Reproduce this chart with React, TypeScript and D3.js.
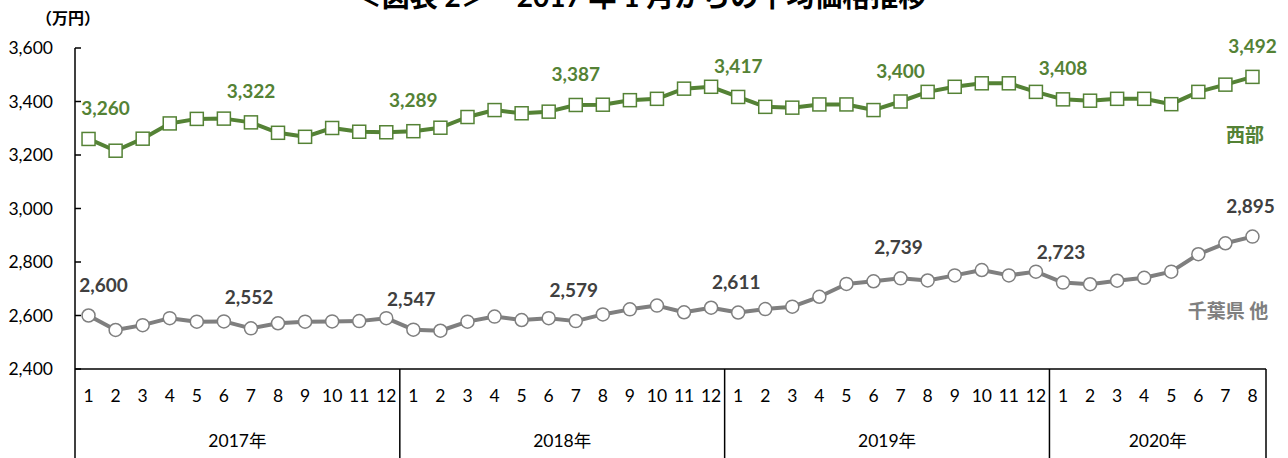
import { useEffect, useRef } from "react";
import * as d3 from "d3";

const years = ["2017年", "2018年", "2019年", "2020年"];
const monthsInYear = [12, 12, 12, 8];

// 西部 (万円)
const seibu = [
  3260, 3216, 3261, 3318, 3335, 3336, 3322, 3283, 3268, 3301, 3287, 3285,
  3289, 3302, 3342, 3368, 3356, 3362, 3387, 3388, 3405, 3410, 3448, 3455,
  3417, 3380, 3377, 3389, 3389, 3368, 3400, 3436, 3455, 3468, 3468, 3436,
  3408, 3403, 3410, 3410, 3390, 3436, 3463, 3492,
];

// 千葉県 他 (万円)
const chiba = [
  2600, 2546, 2564, 2590, 2577, 2578, 2552, 2571, 2577, 2578, 2579, 2590,
  2547, 2543, 2577, 2596, 2583, 2590, 2579, 2604, 2623, 2637, 2612, 2629,
  2611, 2624, 2633, 2670, 2718, 2728, 2739, 2731, 2750, 2770, 2750, 2764,
  2723, 2717, 2730, 2741, 2764, 2829, 2870, 2895,
];

// points that carry a value label
const labelIdx = [0, 6, 12, 18, 24, 30, 36, 43];
const yTicks = [2400, 2600, 2800, 3000, 3200, 3400, 3600];

const title = "＜図表 2＞　2017 年 1 月からの平均価格推移";
const FONT = "Lato, 'Noto Sans CJK JP', sans-serif";
const GREEN = "#548235";
const GRAY = "#7f7f7f";

export default function App() {
  const svgRef = useRef<SVGSVGElement>(null);
  const width = 1288;
  const height = 458;

  useEffect(() => {
    if (!svgRef.current) return;
    const svg = d3.select(svgRef.current);
    svg.selectAll("*").remove();

    // month labels for each point
    const months: string[] = [];
    monthsInYear.forEach((n) => {
      for (let m = 1; m <= n; m++) months.push(String(m));
    });
    const idx = months.map((_, i) => i);

    const left = 75;
    const right = 1266;
    const top = 48;
    const bottom = 369;

    const x = d3.scaleBand<number>().domain(idx).range([left, right]);
    const y = d3.scaleLinear().domain([2400, 3600]).range([bottom, top]);
    const cx = (i: number) => (x(i) as number) + x.bandwidth() / 2;

    // title (cut off at top like the source)
    svg
      .append("text")
      .attr("x", 640)
      .attr("y", 7)
      .attr("text-anchor", "middle")
      .attr("font-family", FONT)
      .attr("font-weight", "bold")
      .attr("font-size", 28)
      .attr("fill", "#000")
      .text(title);

    // unit
    svg
      .append("text")
      .attr("x", 36)
      .attr("y", 24)
      .attr("font-family", FONT)
      .attr("font-weight", "bold")
      .attr("font-size", 16)
      .attr("fill", "#000")
      .text("（万円）");

    // y axis line (runs down through the category table)
    svg
      .append("line")
      .attr("x1", left)
      .attr("x2", left)
      .attr("y1", top)
      .attr("y2", height)
      .attr("stroke", "#000")
      .attr("stroke-width", 1.5);

    // y ticks + labels
    yTicks.forEach((t) => {
      svg
        .append("line")
        .attr("x1", left)
        .attr("x2", left + 6)
        .attr("y1", y(t))
        .attr("y2", y(t))
        .attr("stroke", "#000")
        .attr("stroke-width", 1.5);
      svg
        .append("text")
        .attr("x", 53)
        .attr("y", y(t) + 6)
        .attr("text-anchor", "end")
        .attr("font-family", FONT)
        .attr("font-size", 17.5)
        .attr("fill", "#000")
        .text(d3.format(",")(t));
    });

    // x axis line + category table
    svg
      .append("line")
      .attr("x1", left)
      .attr("x2", right)
      .attr("y1", bottom)
      .attr("y2", bottom)
      .attr("stroke", "#000")
      .attr("stroke-width", 1.5);

    let start = 0;
    years.forEach((yr, k) => {
      const n = monthsInYear[k];
      const x0 = x(start) as number;
      const x1 = (x(start + n - 1) as number) + x.bandwidth();
      svg
        .append("line")
        .attr("x1", x1)
        .attr("x2", x1)
        .attr("y1", bottom)
        .attr("y2", height)
        .attr("stroke", "#000")
        .attr("stroke-width", 1.5);
      svg
        .append("text")
        .attr("x", (x0 + x1) / 2)
        .attr("y", 447)
        .attr("text-anchor", "middle")
        .attr("font-family", FONT)
        .attr("font-size", 17.5)
        .attr("fill", "#000")
        .text(yr);
      start += n;
    });

    svg
      .selectAll("text.month")
      .data(months)
      .join("text")
      .attr("class", "month")
      .attr("x", (_, i) => cx(i))
      .attr("y", 402)
      .attr("text-anchor", "middle")
      .attr("font-family", FONT)
      .attr("font-size", 17.5)
      .attr("fill", "#000")
      .text((d) => d);

    const line = d3
      .line<number>()
      .x((_, i) => cx(i))
      .y((d) => y(d));

    // 千葉県 他
    svg
      .append("path")
      .datum(chiba)
      .attr("d", line)
      .attr("fill", "none")
      .attr("stroke", GRAY)
      .attr("stroke-width", 4)
      .attr("stroke-linejoin", "round");
    svg
      .selectAll("circle.chiba")
      .data(chiba)
      .join("circle")
      .attr("class", "chiba")
      .attr("cx", (_, i) => cx(i))
      .attr("cy", (d) => y(d))
      .attr("r", 6.5)
      .attr("fill", "#fff")
      .attr("stroke", GRAY)
      .attr("stroke-width", 1.5);

    // 西部
    svg
      .append("path")
      .datum(seibu)
      .attr("d", line)
      .attr("fill", "none")
      .attr("stroke", GREEN)
      .attr("stroke-width", 4)
      .attr("stroke-linejoin", "round");
    svg
      .selectAll("rect.seibu")
      .data(seibu)
      .join("rect")
      .attr("class", "seibu")
      .attr("x", (_, i) => cx(i) - 6.5)
      .attr("y", (d) => y(d) - 6.5)
      .attr("width", 13)
      .attr("height", 13)
      .attr("fill", "#fff")
      .attr("stroke", GREEN)
      .attr("stroke-width", 1.5);

    // value labels (first one nudged right, clear of the axis)
    labelIdx.forEach((i) => {
      const dx = i === 0 ? 17 : 0;
      svg
        .append("text")
        .attr("x", cx(i) + dx)
        .attr("y", y(seibu[i]) - 24)
        .attr("text-anchor", "middle")
        .attr("font-family", FONT)
        .attr("font-weight", "bold")
        .attr("font-size", 19)
        .attr("fill", GREEN)
        .text(d3.format(",")(seibu[i]));
      svg
        .append("text")
        .attr("x", cx(i) + dx - 2)
        .attr("y", y(chiba[i]) - 24)
        .attr("text-anchor", "middle")
        .attr("font-family", FONT)
        .attr("font-weight", "bold")
        .attr("font-size", 19)
        .attr("fill", "#404040")
        .text(d3.format(",")(chiba[i]));
    });

    // series names
    svg
      .append("text")
      .attr("x", 1245)
      .attr("y", 142)
      .attr("text-anchor", "middle")
      .attr("font-family", FONT)
      .attr("font-weight", "bold")
      .attr("font-size", 19)
      .attr("fill", GREEN)
      .text("西部");
    svg
      .append("text")
      .attr("x", 1228)
      .attr("y", 318)
      .attr("text-anchor", "middle")
      .attr("font-family", FONT)
      .attr("font-weight", "bold")
      .attr("font-size", 19)
      .attr("fill", GRAY)
      .text("千葉県 他");
  }, []);

  return (
    <svg
      ref={svgRef}
      width={width}
      height={height}
      style={{ position: "absolute", left: 0, top: 0, background: "#fff" }}
    />
  );
}
